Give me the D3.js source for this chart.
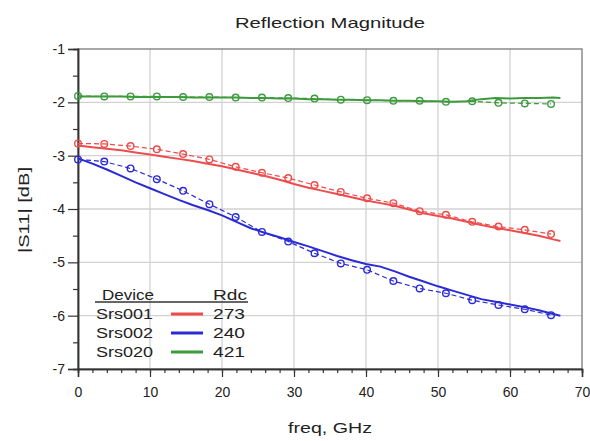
<!DOCTYPE html>
<html>
<head>
<meta charset="utf-8">
<script src="https://cdn.jsdelivr.net/npm/d3@7"></script>
<style>
  html, body { margin: 0; padding: 0; background: #fff; }
  svg text { font-family: "Liberation Sans", Arial, sans-serif; fill: #222; }
</style>
</head>
<body>
<svg id="chart" width="590" height="441"></svg>
<script>
// Simulated (dashed, circle markers) sample frequencies, GHz
const modelFreq = [0, 3.65, 7.3, 10.95, 14.6, 18.25, 21.9, 25.55, 29.2, 32.85,
  36.5, 40.15, 43.8, 47.45, 51.1, 54.75, 58.4, 62.05, 65.7];
// Measured (solid) sample frequencies, GHz
const measFreq = [0, 2, 4, 6, 8, 10, 12, 14, 16, 18, 20, 22, 24, 26, 28, 30, 32,
  34, 36, 38, 40, 42, 44, 46, 48, 50, 52, 54, 56, 58, 60, 62, 64, 66, 67];

// |S11| in dB
const srs001Model = [-2.77, -2.78, -2.82, -2.88, -2.97, -3.07, -3.21, -3.32, -3.42, -3.55,
  -3.68, -3.80, -3.89, -4.04, -4.11, -4.24, -4.33, -4.39, -4.47];
const srs002Model = [-3.07, -3.11, -3.24, -3.44, -3.66, -3.91, -4.15, -4.43, -4.61, -4.83,
  -5.02, -5.14, -5.35, -5.49, -5.58, -5.71, -5.80, -5.88, -5.99];
const srs020Model = [-1.88, -1.89, -1.89, -1.89, -1.90, -1.90, -1.91, -1.91, -1.92, -1.93,
  -1.95, -1.96, -1.97, -1.97, -1.99, -1.98, -2.01, -2.02, -2.03];

const srs001Meas = [-2.81, -2.84, -2.87, -2.90, -2.94, -2.98, -3.02, -3.06, -3.10, -3.15,
  -3.20, -3.26, -3.32, -3.38, -3.45, -3.53, -3.60, -3.66, -3.72, -3.78, -3.84, -3.89,
  -3.94, -4.01, -4.08, -4.13, -4.18, -4.24, -4.30, -4.35, -4.40, -4.45, -4.50, -4.57, -4.60];
const srs002Meas = [-3.05, -3.15, -3.26, -3.38, -3.50, -3.61, -3.72, -3.83, -3.93, -4.02,
  -4.12, -4.24, -4.36, -4.45, -4.53, -4.62, -4.70, -4.79, -4.88, -4.96, -5.03, -5.08,
  -5.17, -5.27, -5.36, -5.45, -5.53, -5.61, -5.69, -5.74, -5.79, -5.84, -5.90, -5.97, -6.00];
const srs020Meas = [-1.89, -1.89, -1.89, -1.89, -1.90, -1.90, -1.90, -1.90, -1.91, -1.91,
  -1.91, -1.91, -1.92, -1.92, -1.93, -1.93, -1.94, -1.94, -1.95, -1.95, -1.96, -1.96,
  -1.97, -1.97, -1.98, -1.98, -1.99, -1.98, -1.94, -1.92, -1.93, -1.92, -1.92, -1.91, -1.92];

const devices = ["Srs001", "Srs002", "Srs020"];
const rdc = ["273", "240", "421"];
const colors = ["#ee4c4c", "#2b2bd6", "#3d9a3d"];

const xTicks = [0, 10, 20, 30, 40, 50, 60, 70];
const yTicks = [-1, -2, -3, -4, -5, -6, -7];

const margin = { top: 49, right: 8, bottom: 72, left: 78 };
const W = 590, H = 441;
const svg = d3.select("#chart");

const x = d3.scaleLinear().domain([0, 70]).range([margin.left, W - margin.right]);
const y = d3.scaleLinear().domain([-7, -1]).range([H - margin.bottom, margin.top]);

// grid
const grid = svg.append("g");
grid.selectAll("line.gx").data(xTicks.slice(1, -1)).join("line")
  .attr("x1", d => x(d)).attr("x2", d => x(d))
  .attr("y1", y(-1)).attr("y2", y(-7))
  .attr("stroke", "#d2d2d2").attr("stroke-width", 1.3);
grid.selectAll("line.gy").data(yTicks.slice(1, -1)).join("line")
  .attr("x1", x(0)).attr("x2", x(70))
  .attr("y1", d => y(d)).attr("y2", d => y(d))
  .attr("stroke", "#d2d2d2").attr("stroke-width", 1.3);

// frame
svg.append("rect")
  .attr("x", x(0)).attr("y", y(-1))
  .attr("width", x(70) - x(0)).attr("height", y(-7) - y(-1))
  .attr("fill", "none").attr("stroke", "#8a8a8a").attr("stroke-width", 1.5);

// axes (plain hyphen for negative labels)
const hyphen = d => String(d);
const xAxis = d3.axisBottom(x).tickValues(xTicks).tickSize(8).tickPadding(10).tickFormat(hyphen);
const xMinor = d3.axisBottom(x).tickValues(d3.range(0, 71, 2)).tickSize(4).tickFormat("");
const yAxis = d3.axisLeft(y).tickValues(yTicks).tickSize(10).tickPadding(3).tickFormat(hyphen);
const yMinor = d3.axisLeft(y).tickValues(d3.range(-6.5, -1, 1)).tickSize(5).tickFormat("");

function styleAxis(g) {
  g.select(".domain").attr("stroke", "#333").attr("stroke-width", 1.5);
  g.selectAll(".tick line").attr("stroke", "#333").attr("stroke-width", 1.2);
  g.selectAll(".tick text").attr("font-size", 14).attr("fill", "#222")
    .attr("font-family", "Liberation Sans, Arial, sans-serif");
}
svg.append("g").attr("transform", `translate(0,${y(-7)})`).call(xMinor).call(styleAxis);
svg.append("g").attr("transform", `translate(0,${y(-7)})`).call(xAxis).call(styleAxis);
svg.append("g").attr("transform", `translate(${x(0)},0)`).call(yMinor).call(styleAxis);
svg.append("g").attr("transform", `translate(${x(0)},0)`).call(yAxis).call(styleAxis);

// series
const line = d3.line().x(d => x(d[0])).y(d => y(d[1]));
const meas = [srs001Meas, srs002Meas, srs020Meas];
const model = [srs001Model, srs002Model, srs020Model];
const plot = svg.append("g");
model.forEach((vals, i) => {
  const pts = modelFreq.map((f, k) => [f, vals[k]]);
  plot.append("path").attr("d", line(pts)).attr("fill", "none")
    .attr("stroke", colors[i]).attr("stroke-width", 1.2).attr("stroke-dasharray", "5,3");
  plot.selectAll(null).data(pts).join("circle")
    .attr("cx", d => x(d[0])).attr("cy", d => y(d[1])).attr("r", 3.3)
    .attr("fill", "none").attr("stroke", colors[i]).attr("stroke-width", 1.4);
});
meas.forEach((vals, i) => {
  const pts = measFreq.map((f, k) => [f, vals[k]]);
  plot.append("path").attr("d", line(pts)).attr("fill", "none")
    .attr("stroke", colors[i]).attr("stroke-width", 2);
});

// title and axis labels
svg.append("text").attr("x", 330).attr("y", 28).attr("text-anchor", "middle")
  .attr("font-size", 15).attr("textLength", 190).attr("lengthAdjust", "spacingAndGlyphs")
  .text("Reflection Magnitude");
svg.append("text").attr("x", 330).attr("y", 433).attr("text-anchor", "middle")
  .attr("font-size", 15).attr("textLength", 84).attr("lengthAdjust", "spacingAndGlyphs")
  .text("freq, GHz");
svg.append("text").attr("transform", "translate(29,210) rotate(-90)").attr("text-anchor", "middle")
  .attr("font-size", 15).attr("textLength", 86).attr("lengthAdjust", "spacingAndGlyphs")
  .text("|S11| [dB]");

// legend
const lg = svg.append("g");
lg.append("text").attr("x", 102).attr("y", 300).attr("font-size", 15)
  .attr("textLength", 52).attr("lengthAdjust", "spacingAndGlyphs").text("Device");
lg.append("text").attr("x", 213).attr("y", 300).attr("font-size", 15)
  .attr("textLength", 34).attr("lengthAdjust", "spacingAndGlyphs").text("Rdc");
lg.append("line").attr("x1", 95).attr("x2", 248).attr("y1", 302).attr("y2", 302)
  .attr("stroke", "#333").attr("stroke-width", 1.5);
const rowY = d3.scalePoint().domain(devices).range([319, 357]);
devices.forEach((d, i) => {
  lg.append("text").attr("x", 96).attr("y", rowY(d)).attr("font-size", 15)
    .attr("textLength", 57).attr("lengthAdjust", "spacingAndGlyphs").text(d);
  lg.append("line").attr("x1", 171).attr("x2", 203)
    .attr("y1", rowY(d) - 5).attr("y2", rowY(d) - 5)
    .attr("stroke", colors[i]).attr("stroke-width", 3);
  lg.append("text").attr("x", 213).attr("y", rowY(d)).attr("font-size", 15)
    .attr("textLength", 32).attr("lengthAdjust", "spacingAndGlyphs").text(rdc[i]);
});
</script>
</body>
</html>
